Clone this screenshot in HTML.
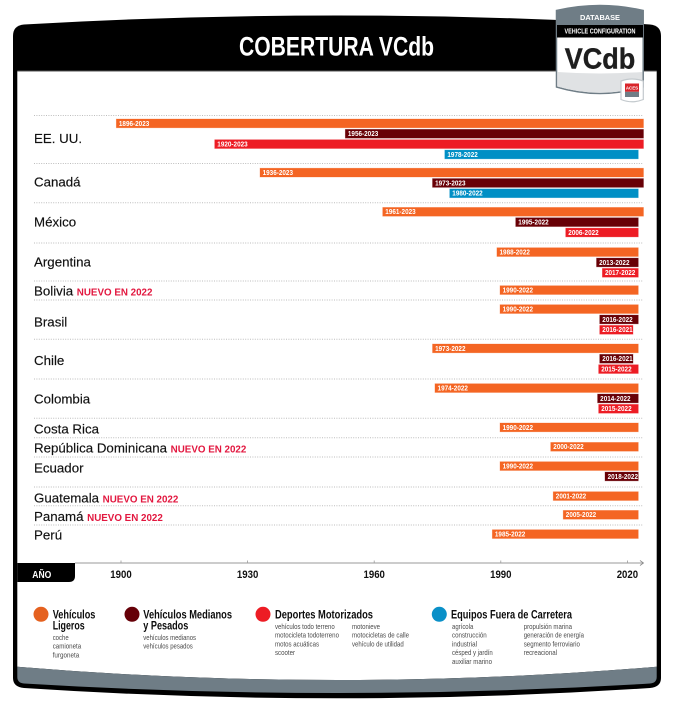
<!DOCTYPE html>
<html lang="es">
<head>
<meta charset="utf-8">
<title>Cobertura VCdb</title>
<style>
html,body{margin:0;padding:0;background:#fff;width:674px;height:724px;overflow:hidden}
svg{display:block}
text{font-family:"Liberation Sans",Arial,sans-serif}
.h{font-weight:700;font-size:12.4px;fill:#0c0c0c}
.s{font-size:7.2px;fill:#4a4a4a}
.t{font-weight:700;font-size:11.4px;fill:#111;text-anchor:middle}
</style>
</head>
<body>
<svg id="chart" xmlns="http://www.w3.org/2000/svg" width="674" height="724" viewBox="0 0 674 724">
  <path fill="#000" d="M13,36 Q13,25.5 24,24.5 Q337,6.5 650,24.5 Q661,25.5 661,36 V678 Q661,687 650,688 Q337,708.6 24,688 Q13,687 13,678 Z"/>
  <path fill="#fff" d="M17.3,71.3 H656.7 V666.7 Q337,693.3 17.3,666.7 Z"/>
  <line x1="17.3" x2="656.7" y1="71" y2="71" stroke="#555" stroke-width="1"/>
  <path fill="#6f7d86" d="M17.3,666.7 Q337,693.3 656.7,666.7 V677 Q656.7,683 650,683.5 Q337,702.5 24,683.5 Q17.3,683 17.3,677 Z"/>
  <text x="239" y="55.5" font-size="27" font-weight="700" fill="#fff" textLength="195" lengthAdjust="spacingAndGlyphs">COBERTURA VCdb</text>

  <g id="rows"></g>
  <g id="bars"></g>

  <path fill="#000" d="M17.3,563 H75 V576 Q75,582 69,582 H17.3 Z"/>
  <text x="32.3" y="577.8" font-size="10.5" font-weight="700" fill="#fff" textLength="19" lengthAdjust="spacingAndGlyphs">AÑO</text>
  <g id="axis"></g>

  <g>
    <g>
      <circle cx="41" cy="614.3" r="7.5" fill="#e5611f"/>
      <text class="h" x="52.7" y="618.4" textLength="42.7" lengthAdjust="spacingAndGlyphs">Vehículos</text>
      <text class="h" x="52.7" y="629.4" textLength="32" lengthAdjust="spacingAndGlyphs">Ligeros</text>
      <text class="s" x="52.7" y="640" textLength="16" lengthAdjust="spacingAndGlyphs">coche</text>
      <text class="s" x="52.7" y="648.7" textLength="28.5" lengthAdjust="spacingAndGlyphs">camioneta</text>
      <text class="s" x="52.7" y="657.4" textLength="26.5" lengthAdjust="spacingAndGlyphs">furgoneta</text>
    </g>
    <g>
      <circle cx="132" cy="614.3" r="7.5" fill="#660008"/>
      <text class="h" x="143.3" y="618.4" textLength="88.7" lengthAdjust="spacingAndGlyphs">Vehículos Medianos</text>
      <text class="h" x="143.3" y="629.4" textLength="45" lengthAdjust="spacingAndGlyphs">y Pesados</text>
      <text class="s" x="143.3" y="640" textLength="52.7" lengthAdjust="spacingAndGlyphs">vehículos medianos</text>
      <text class="s" x="143.3" y="648.7" textLength="49.5" lengthAdjust="spacingAndGlyphs">vehículos pesados</text>
    </g>
    <g>
      <circle cx="263" cy="614.3" r="7.5" fill="#ed1c24"/>
      <text class="h" x="275" y="618.4" textLength="98" lengthAdjust="spacingAndGlyphs">Deportes Motorizados</text>
      <text class="s" x="275" y="629" textLength="59.7" lengthAdjust="spacingAndGlyphs">vehículos todo terreno</text>
      <text class="s" x="275" y="637.7" textLength="64" lengthAdjust="spacingAndGlyphs">motocicleta todoterreno</text>
      <text class="s" x="275" y="646.4" textLength="44" lengthAdjust="spacingAndGlyphs">motos acuáticas</text>
      <text class="s" x="275" y="655.1" textLength="20" lengthAdjust="spacingAndGlyphs">scooter</text>
      <text class="s" x="352" y="629" textLength="28" lengthAdjust="spacingAndGlyphs">motonieve</text>
      <text class="s" x="352" y="637.7" textLength="57" lengthAdjust="spacingAndGlyphs">motocicletas de calle</text>
      <text class="s" x="352" y="646.4" textLength="51.7" lengthAdjust="spacingAndGlyphs">vehículo de utilidad</text>
    </g>
    <g>
      <circle cx="439.3" cy="614.3" r="7.5" fill="#0a90c8"/>
      <text class="h" x="451" y="618.4" textLength="121" lengthAdjust="spacingAndGlyphs">Equipos Fuera de Carretera</text>
      <text class="s" x="452" y="629" textLength="21.3" lengthAdjust="spacingAndGlyphs">agrícola</text>
      <text class="s" x="452" y="637.7" textLength="34.7" lengthAdjust="spacingAndGlyphs">construcción</text>
      <text class="s" x="452" y="646.4" textLength="25" lengthAdjust="spacingAndGlyphs">industrial</text>
      <text class="s" x="452" y="655.1" textLength="40.7" lengthAdjust="spacingAndGlyphs">césped y jardín</text>
      <text class="s" x="452" y="663.8" textLength="40" lengthAdjust="spacingAndGlyphs">auxiliar marino</text>
      <text class="s" x="523.7" y="629" textLength="48.3" lengthAdjust="spacingAndGlyphs">propulsión marina</text>
      <text class="s" x="523.7" y="637.7" textLength="60.3" lengthAdjust="spacingAndGlyphs">generación de energía</text>
      <text class="s" x="523.7" y="646.4" textLength="56.3" lengthAdjust="spacingAndGlyphs">segmento ferroviario</text>
      <text class="s" x="523.7" y="655.1" textLength="33.3" lengthAdjust="spacingAndGlyphs">recreacional</text>
    </g>
  </g>

  <g>
    <path fill="#fff" stroke="#6f7d86" stroke-width="1.5" d="M556.5,10.5 Q600,0.5 643.2,10.5 V87 Q600,100 556.5,87 Z"/>
    <path fill="#6f7d86" d="M556.5,10.5 Q600,0.5 643.2,10.5 V25 H556.5 Z"/>
    <rect x="557" y="25" width="86" height="12.5" fill="#000"/>
    <path fill="#e0e2e4" d="M557.3,72 Q600,75 642.5,72 V86.5 Q600,99 557.3,86.5 Z"/>
    <text x="600" y="20" font-size="7.4" font-weight="700" fill="#fff" text-anchor="middle" textLength="40" lengthAdjust="spacingAndGlyphs">DATABASE</text>
    <text x="600" y="33.5" font-size="7" font-weight="700" fill="#fff" text-anchor="middle" textLength="71" lengthAdjust="spacingAndGlyphs">VEHICLE CONFIGURATION</text>
    <text x="600" y="68.4" font-size="29" font-weight="700" fill="#1e1e1e" stroke="#1e1e1e" stroke-width="0.4" text-anchor="middle" textLength="70.5" lengthAdjust="spacingAndGlyphs">VCdb</text>
    <path fill="#fff" stroke="#c3c9cd" stroke-width="1.2" d="M621,81 Q632,77 643.3,81 V99.5 Q632,104 621,99.5 Z"/>
    <rect x="625" y="83.5" width="14" height="8.3" fill="#d9252b"/>
    <rect x="625" y="91.8" width="14" height="5.2" fill="#6f7d86"/>
    <text x="632" y="89.6" font-size="4.4" font-weight="700" fill="#fff" text-anchor="middle">ACES</text>
  </g>
</svg>

<script>
// ---- chart data ----
const countries = ["EE. UU.","Canadá","México","Argentina","Bolivia","Brasil","Chile","Colombia","Costa Rica","República Dominicana","Ecuador","Guatemala","Panamá","Perú"];
const newIn2022 = ["Bolivia","República Dominicana","Guatemala","Panamá"];
const categories = ["light","mediumHeavy","powersports","offHighway"];
const tickYears = [1900,1930,1960,1990,2020];

// One series per vehicle class; each entry is [country index, first year, last year].
const lightVehicles = [[0,1896,2023],[1,1936,2023],[2,1961,2023],[3,1988,2022],[4,1990,2022],[5,1990,2022],[6,1973,2022],[7,1974,2022],[8,1990,2022],[9,2000,2022],[10,1990,2022],[11,2001,2022],[12,2005,2022],[13,1985,2022]];
const mediumHeavyVehicles = [[0,1956,2023],[1,1973,2023],[2,1995,2022],[3,2013,2022],[5,2016,2022],[6,2016,2021],[7,2014,2022],[10,2018,2022]];
const powersports = [[0,1920,2023],[2,2006,2022],[3,2017,2022],[5,2016,2021],[6,2015,2022],[7,2015,2022]];
const offHighway = [[0,1978,2022],[1,1980,2022]];

// ---- layout and axis functions ----
const NS = "http://www.w3.org/2000/svg";
const seriesFill = {light:"#f46523",mediumHeavy:"#680006",powersports:"#ed1c24",offHighway:"#008fc5"};

// Tick axis: linear.
function tickX(year){ return 121 + (year - 1900) * 4.2200; }

// The reference's bars are not drawn to the tick scale, so bars use their own
// piecewise scale, calibrated against the printed year ranges.
function barX(year){
  const domain = [1896,1920,1936,1956,1961,1973,1980,1985,1990,1995,2000,2006,2013,2016,2018,2021,2022,2023];
  const range  = [116.3,214.7,260,345.3,382.7,432.5,449.7,492.3,500,515.7,550.7,565.7,596.5,599.7,605,633,638.3,643.5];
  if (year <= domain[0]) return range[0] + (year - domain[0]) * 4;
  for (let i = 1; i < domain.length; i++) {
    if (year <= domain[i]) {
      const t = (year - domain[i-1]) / (domain[i] - domain[i-1]);
      return range[i-1] + t * (range[i] - range[i-1]);
    }
  }
  return range[range.length-1] + (year - domain[domain.length-1]) * 5;
}

function rowEdge(r){
  const edges = [115.5,163.5,202.7,243,281,300,339.3,379,418.3,437.7,457,487,505.7,525];
  return edges[r];
}
function labelBaseline(r){
  const baselines = [143,186.7,226.7,266.7,295.7,326.3,365,403.7,433.3,452.7,472.3,502.3,521,539.3];
  return baselines[r];
}
function laneY(r, lane){ return rowEdge(r) + (r === 0 ? 3.5 : 4.7) + lane * 10.35; }

function make(tag, attrs, parent){
  const el = document.createElementNS(NS, tag);
  for (const k in attrs) el.setAttribute(k, attrs[k]);
  parent.appendChild(el);
  return el;
}

// ---- separators and country labels ----
const rowsG = document.getElementById("rows");
countries.forEach(function(name, r){
  const sep = make("line",{x1:34,x2:643,y1:rowEdge(r),y2:rowEdge(r),stroke:"#bdbdbd","stroke-width":1,"stroke-dasharray":"1 1.4"},rowsG);
  
  
  const label = make("text",{x:34,y:labelBaseline(r),"font-size":13.3,fill:"#111",stroke:"#111","stroke-width":0.15},rowsG);
  
  
  label.textContent = name;
  if (newIn2022.indexOf(name) >= 0) {
    const tag = make("tspan",{dx:3.6,"font-size":9.8,"font-weight":700,fill:"#e2173f",stroke:"none"},label);
    
    
    tag.textContent = "NUEVO EN 2022";
  }
});

// ---- bars: series are stacked into lanes in the reference's drawing order ----
const barsG = document.getElementById("bars");
const seriesList = [lightVehicles,mediumHeavyVehicles,powersports,offHighway];
const lanesUsed = countries.map(function(){ return 0; });
seriesList.forEach(function(series, s){
  const cat = categories[s];
  series.forEach(function(entry){
    const r = entry[0], from = entry[1], to = entry[2];
    const lane = lanesUsed[r]++;
    const x0 = barX(from), x1 = barX(to), y = laneY(r, lane);
    const bar = make("rect",{x:x0,y:y,width:Math.max(1,x1-x0),height:8.8,fill:seriesFill[cat],stroke:seriesFill[cat],"stroke-opacity":0.4,"stroke-width":0.7},barsG);
    
    
    const txt = make("text",{x:x0+2.6,y:y+6.8,"font-size":7,"font-weight":700,fill:"#fff",textLength:30.4,lengthAdjust:"spacingAndGlyphs"},barsG);
    
    
    txt.textContent = from + "-" + to;
  });
});

// ---- axis ----
const axisG = document.getElementById("axis");
const axisLine = make("line",{x1:75,x2:643,y1:563,y2:563,stroke:"#9a9a9a","stroke-width":1},axisG);


const axisArrow = make("path",{d:"M640,560.5 L643.5,563 L640,565.5",fill:"none",stroke:"#8a8a8a","stroke-width":0.8},axisG);


tickYears.forEach(function(year){
  const x = tickX(year);
  const tick = make("line",{x1:x,x2:x,y1:560.5,y2:563,stroke:"#9a9a9a","stroke-width":0.8},axisG);
  
  
  const lbl = make("text",{class:"t",x:x,y:577.8,textLength:21.4,lengthAdjust:"spacingAndGlyphs"},axisG);
  
  
  lbl.textContent = year;
});
</script>
</body>
</html>
